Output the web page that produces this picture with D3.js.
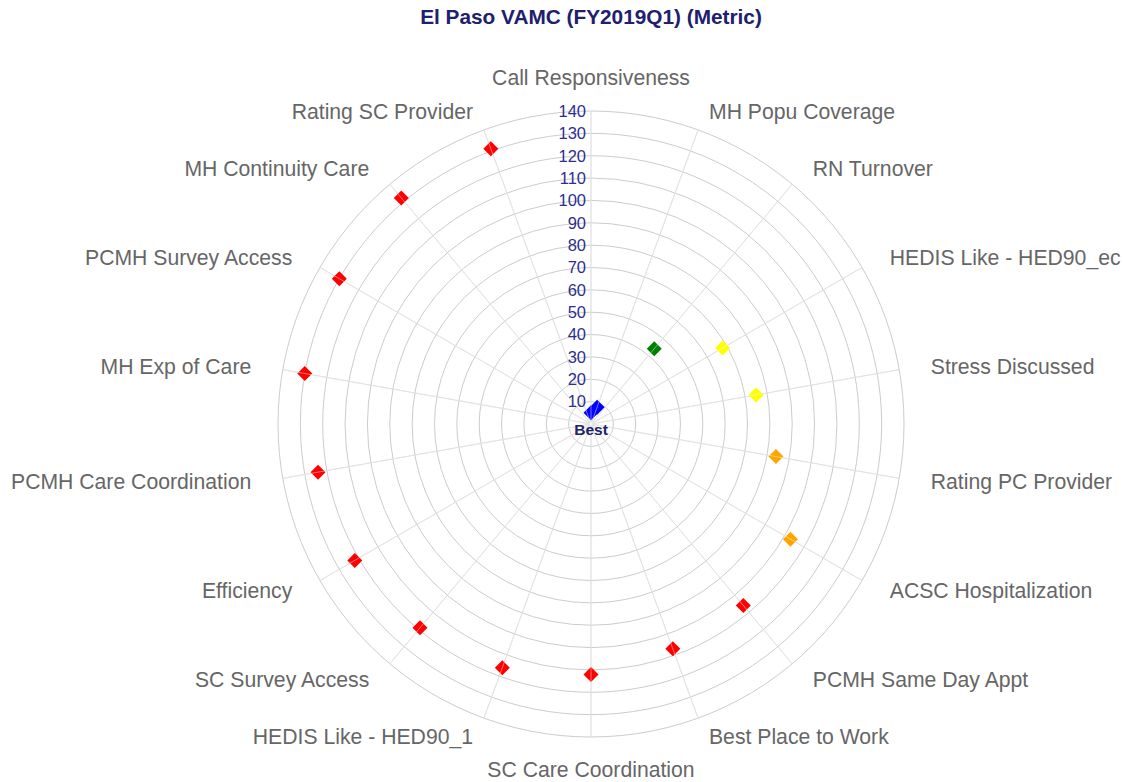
<!DOCTYPE html>
<html>
<head>
<meta charset="utf-8">
<script src="https://cdn.jsdelivr.net/npm/d3@7"></script>
<style>
  html, body { margin: 0; padding: 0; background: #fff; }
  svg { display: block; font-family: "Liberation Sans", Arial, sans-serif; }
</style>
</head>
<body>
<div id="chart"></div>
<script>
const categories = [
  'Call Responsiveness', 'MH Popu Coverage', 'RN Turnover', 'HEDIS Like - HED90_ec',
  'Stress Discussed', 'Rating PC Provider', 'ACSC Hospitalization', 'PCMH Same Day Appt',
  'Best Place to Work', 'SC Care Coordination', 'HEDIS Like - HED90_1', 'SC Survey Access',
  'Efficiency', 'PCMH Care Coordination', 'MH Exp of Care', 'PCMH Survey Access',
  'MH Continuity Care', 'Rating SC Provider'
];
const values = [5, 8, 44, 68, 75, 84, 103, 106, 107, 112, 116, 119, 122, 124, 130, 130, 132, 131];
const pointColors = [
  '#0000ff', '#0000ff', '#008000', '#ffff00', '#ffff00', '#ffa500', '#ffa500', '#ff0000',
  '#ff0000', '#ff0000', '#ff0000', '#ff0000', '#ff0000', '#ff0000', '#ff0000', '#ff0000',
  '#ff0000', '#ff0000'
];
const radialTicks = [10, 20, 30, 40, 50, 60, 70, 80, 90, 100, 110, 120, 130, 140];
const title = 'El Paso VAMC (FY2019Q1) (Metric)';

const width = 1124, height = 782;
const cx = 591, cy = 424, outerR = 313;

const svg = d3.select('#chart').append('svg')
  .attr('width', width)
  .attr('height', height);

const r = d3.scaleLinear().domain([0, 140]).range([0, outerR]);
const angle = d3.scaleLinear().domain([0, categories.length]).range([0, 2 * Math.PI]);

const g = svg.append('g').attr('transform', `translate(${cx},${cy})`);

// grid circles
g.append('g').selectAll('circle')
  .data(radialTicks)
  .join('circle')
  .attr('r', d => r(d))
  .attr('fill', 'none')
  .attr('stroke', '#cccccc')
  .attr('stroke-width', 1);

// spokes
g.append('g').selectAll('line')
  .data(categories)
  .join('line')
  .attr('x1', 0).attr('y1', 0)
  .attr('x2', (d, i) => outerR * Math.sin(angle(i)))
  .attr('y2', (d, i) => -outerR * Math.cos(angle(i)))
  .attr('stroke', '#cccccc')
  .attr('stroke-width', 1);

// markers
const pts = values.map((v, i) => ({
  v, i, color: pointColors[i],
  x: r(v) * Math.sin(angle(i)),
  y: -r(v) * Math.cos(angle(i))
}));

const m = 7.5;
g.append('g').selectAll('path')
  .data(pts)
  .join('path')
  .attr('d', `M0,${-m}L${m},0L0,${m}L${-m},0Z`)
  .attr('transform', d => `translate(${d.x},${d.y})`)
  .attr('fill', d => d.color);

// faint spoke overlay over markers
g.append('g').selectAll('line')
  .data(categories)
  .join('line')
  .attr('x1', 0).attr('y1', 0)
  .attr('x2', (d, i) => outerR * Math.sin(angle(i)))
  .attr('y2', (d, i) => -outerR * Math.cos(angle(i)))
  .attr('stroke', 'rgba(255,255,255,0.45)')
  .attr('stroke-width', 1);

// radial tick labels
g.append('g').selectAll('text')
  .data(radialTicks)
  .join('text')
  .attr('x', -5)
  .attr('y', d => -r(d))
  .attr('dy', '0.35em')
  .attr('text-anchor', 'end')
  .attr('font-size', 16.5)
  .attr('fill', '#2e2e90')
  .text(d => d);

g.append('text')
  .attr('x', 0)
  .attr('y', 6)
  .attr('dy', '0.35em')
  .attr('text-anchor', 'middle')
  .attr('font-size', 15.5)
  .attr('font-weight', 'bold')
  .attr('fill', '#222266')
  .text('Best');

// category labels
g.append('g').selectAll('text')
  .data(categories)
  .join('text')
  .attr('x', (d, i) => 345 * Math.sin(angle(i)))
  .attr('y', (d, i) => {
    const rr = (i === 0 || i === 9) ? 346 : 333;
    return -rr * Math.cos(angle(i));
  })
  .attr('dy', '0.35em')
  .attr('text-anchor', (d, i) => (i === 0 || i === 9) ? 'middle' : (i < 9 ? 'start' : 'end'))
  .attr('font-size', 21.2)
  .attr('fill', '#666666')
  .text(d => d);

// title
svg.append('text')
  .attr('x', cx)
  .attr('y', 17)
  .attr('dy', '0.35em')
  .attr('text-anchor', 'middle')
  .attr('font-size', 20.8)
  .attr('font-weight', 'bold')
  .attr('fill', '#20206e')
  .text(title);
</script>
</body>
</html>
